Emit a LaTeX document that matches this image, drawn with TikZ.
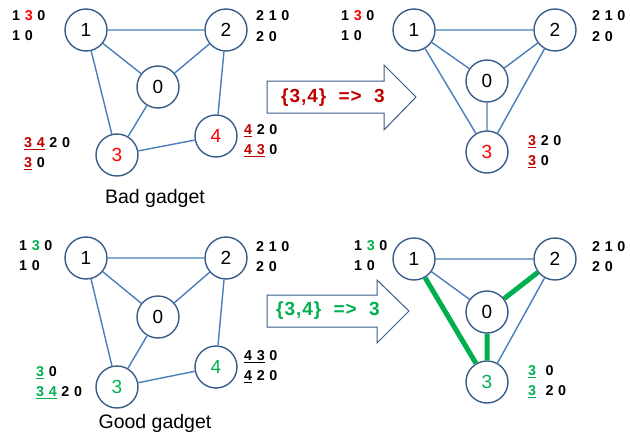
\documentclass[tikz,border=0pt]{standalone}
\usepackage{fontspec}
\setmainfont{Liberation Sans}
\newfontfamily\spacedfont[LetterSpace=5]{Liberation Sans}
\newfontfamily\arrfont[LetterSpace=5]{Liberation Sans}
\definecolor{nodeblue}{HTML}{385D8A}
\definecolor{edgeblue}{HTML}{4A7EBB}
\definecolor{brightred}{HTML}{FF0000}
\definecolor{darkred}{HTML}{C00000}
\definecolor{ggreen}{HTML}{00B050}
\newcommand\myul[1]{\setbox0\hbox{#1}\rlap{\rule[-2.4pt]{\wd0}{1.3pt}}\box0\relax}
\tikzset{
  vtx/.style={circle,draw=nodeblue,line width=1.4pt,fill=white,minimum size=42pt,inner sep=0pt,font=\fontsize{19}{19}\selectfont},
  edge/.style={draw=edgeblue,line width=1.4pt},
  gedge/.style={draw=ggreen,line width=5pt},
  lbl/.style={anchor=west,inner sep=0pt,font=\spacedfont\fontsize{14.3}{14.3}\selectfont\bfseries},
  captext/.style={inner sep=0pt,font=\fontsize{19.5}{19.5}\selectfont},
  arrowshape/.style={draw=nodeblue,line width=1pt,fill=white},
  arrtext/.style={inner sep=0pt,font=\arrfont\fontsize{19}{19}\selectfont\bfseries}
}
\begin{document}
\begin{tikzpicture}[x=1pt,y=-1pt]
\useasboundingbox (0,0) rectangle (630,439);
% ---------- top left: bad gadget ----------
\node[vtx] (a1) at (86,30) {1};
\node[vtx] (a2) at (226,30) {2};
\node[vtx] (a0) at (158,87) {0};
\node[vtx,text=brightred] (a4) at (216,136) {4};
\node[vtx,text=brightred] (a3) at (117,155) {3};
\path[edge] (a1) -- (a2) (a1) -- (a0) (a2) -- (a0) (a1) -- (a3) (a0) -- (a3) (a2) -- (a4) (a3) -- (a4);
\node[lbl] (la1) at (12,16) {1 \textcolor{brightred}{3} 0};
\node[lbl] (la1b) at (12,36) {1 0};
\node[lbl] (la2) at (256,16) {2 1 0};
\node[lbl] (la2b) at (256,37) {2 0};
\node[lbl] (la3) at (24,144) {\textcolor{darkred}{\myul{3 4}} 2 0};
\node[lbl] (la3b) at (24,164) {\textcolor{darkred}{\myul{3}} 0};
\node[lbl] (la4) at (244,131) {\textcolor{darkred}{\myul{4}} 2 0};
\node[lbl] (la4b) at (244,151) {\textcolor{darkred}{\myul{4 3}} 0};
\node[captext] (capa) at (155,198) {Bad gadget};
% arrow top
\draw[arrowshape] (267,81) -- (384,81) -- (384,65) -- (416,97) -- (384,130) -- (384,113) -- (267,113) -- cycle;
\node[arrtext,text=darkred] (ta) at (333,98) {\{3,4\}\ \ =>\ \ 3};
% ---------- top right ----------
\node[vtx] (b1) at (414,30) {1};
\node[vtx] (b2) at (555,30) {2};
\node[vtx] (b0) at (487,81) {0};
\node[vtx,text=brightred] (b3) at (487,152) {3};
\path[edge] (b1) -- (b2) (b1) -- (b0) (b2) -- (b0) (b1) -- (b3) (b0) -- (b3) (b2) -- (b3);
\node[lbl] (lb1) at (341,16) {1 \textcolor{brightred}{3} 0};
\node[lbl] (lb1b) at (341,36) {1 0};
\node[lbl] (lb2) at (592,16) {2 1 0};
\node[lbl] (lb2b) at (592,37) {2 0};
\node[lbl] (lb3) at (528,142) {\textcolor{darkred}{\myul{3}} 2 0};
\node[lbl] (lb3b) at (528,162) {\textcolor{darkred}{\myul{3}} 0};
% ---------- bottom left: good gadget ----------
\node[vtx] (c1) at (86,258) {1};
\node[vtx] (c2) at (226,258) {2};
\node[vtx] (c0) at (158,317) {0};
\node[vtx,text=ggreen] (c4) at (216,367) {4};
\node[vtx,text=ggreen] (c3) at (117,387) {3};
\path[edge] (c1) -- (c2) (c1) -- (c0) (c2) -- (c0) (c1) -- (c3) (c0) -- (c3) (c2) -- (c4) (c3) -- (c4);
\node[lbl] (lc1) at (19,246) {1 \textcolor{ggreen}{3} 0};
\node[lbl] (lc1b) at (19,266) {1 0};
\node[lbl] (lc2) at (256,247) {2 1 0};
\node[lbl] (lc2b) at (256,267) {2 0};
\node[lbl] (lc3) at (36,373) {\textcolor{ggreen}{\myul{3}} 0};
\node[lbl] (lc3b) at (36,393) {\textcolor{ggreen}{\myul{3 4}} 2 0};
\node[lbl] (lc4) at (244,357) {\myul{4 3} 0};
\node[lbl] (lc4b) at (244,377) {\myul{4} 2 0};
\node[captext] (capc) at (155,423) {Good gadget};
% arrow bottom
\draw[arrowshape] (267,295) -- (377,295) -- (377,280) -- (409,311) -- (377,343) -- (377,327) -- (267,327) -- cycle;
\node[arrtext,text=ggreen] (tc) at (328,311) {\{3,4\}\ \ =>\ \ 3};
% ---------- bottom right ----------
\node[vtx] (d1) at (414,259) {1};
\node[vtx] (d2) at (555,259) {2};
\node[vtx] (d0) at (487,312) {0};
\node[vtx,text=ggreen] (d3) at (487,382) {3};
\path[edge] (d1) -- (d2) (d1) -- (d0) (d2) -- (d3);
\path[gedge] (d1) -- (d3) (d0) -- (d2) (d0) -- (d3);
\node[lbl] (ld1) at (354,246) {1 \textcolor{ggreen}{3} 0};
\node[lbl] (ld1b) at (354,266) {1 0};
\node[lbl] (ld2) at (592,247) {2 1 0};
\node[lbl] (ld2b) at (592,267) {2 0};
\node[lbl] (ld3) at (528,372) {\textcolor{ggreen}{\myul{3}}\ \ 0};
\node[lbl] (ld3b) at (528,392) {\textcolor{ggreen}{\myul{3}}\ \ 2 0};
\end{tikzpicture}
\end{document}
